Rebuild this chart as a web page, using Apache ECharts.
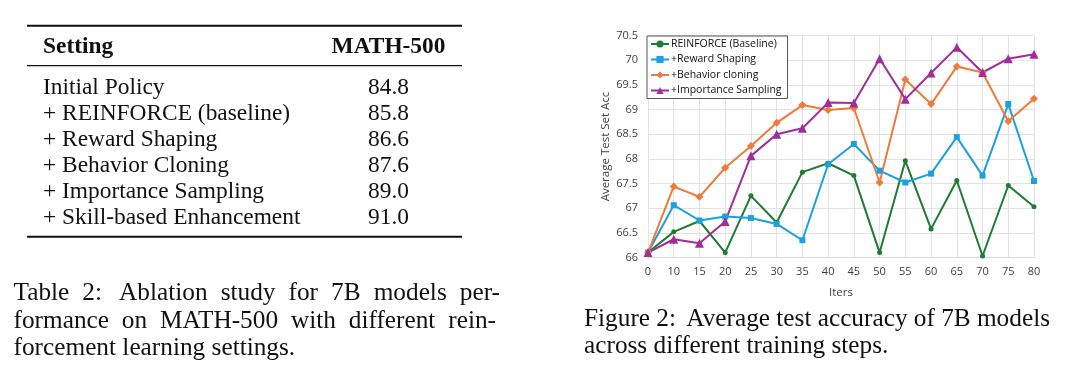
<!DOCTYPE html>
<html>
<head>
<meta charset="utf-8">
<script src="https://cdn.jsdelivr.net/npm/echarts@6/dist/echarts.min.js"></script>
<style>
html,body{margin:0;padding:0;background:#fff;}
#main{width:1080px;height:390px;}
</style>
</head>
<body>
<div id="main"></div>
<script>
// ---- chart data ----
var iters = ['0','10','15','20','25','30','35','40','45','50','55','60','65','70','75','80'];
var reinforce  = [66.1, 66.52, 66.74, 66.1, 67.25, 66.71, 67.73, 67.91, 67.66, 66.1, 67.96, 66.58, 67.56, 66.03, 67.46, 67.03];
var reward     = [66.1, 67.06, 66.75, 66.83, 66.8, 66.68, 66.35, 67.89, 68.3, 67.76, 67.52, 67.7, 68.44, 67.66, 69.11, 67.55];
var behavior   = [66.1, 67.44, 67.23, 67.82, 68.26, 68.73, 69.09, 68.99, 69.03, 67.52, 69.61, 69.11, 69.87, 69.75, 68.76, 69.22];
var importance = [66.1, 66.37, 66.29, 66.73, 68.06, 68.5, 68.62, 69.14, 69.13, 70.03, 69.21, 69.74, 70.26, 69.75, 70.03, 70.12];
var seriesNames = ['REINFORCE (Baseline)', '+Reward Shaping', '+Behavior cloning', '+Importance Sampling'];

// ---- table data ----
var tableHeader = ['Setting', 'MATH-500'];
var tableSettings = ['Initial Policy', '+ REINFORCE (baseline)', '+ Reward Shaping', '+ Behavior Cloning', '+ Importance Sampling', '+ Skill-based Enhancement'];
var tableScores = ['84.8', '85.8', '86.6', '87.6', '89.0', '91.0'];

// ---- captions ----
var tableCaption = ['Table 2:  Ablation study for 7B models per-', 'formance on MATH-500 with different rein-', 'forcement learning settings.'];
var figCaption = ['Figure 2:  Average test accuracy of 7B models', 'across different training steps.'];

var SERIF = '"Liberation Serif", "Times New Roman", serif';
var measureCtx = document.createElement('canvas').getContext('2d');

function textEl(txt, x, y, size, weight, align) {
  var font = (weight || 'normal') + ' ' + size + 'px ' + SERIF;
  return {
    type: 'text', silent: true,
    style: { text: txt, x: x, y: y, font: font, fill: '#111',
      textAlign: align || 'left', align: align || 'left',
      textVerticalAlign: 'middle', verticalAlign: 'middle' }
  };
}
function justifiedLine(txt, x, y, size, width) {
  var font = 'normal ' + size + 'px ' + SERIF;
  measureCtx.font = font;
  var words = txt.split(/\s+/);
  var total = 0;
  words.forEach(function (w) { total += measureCtx.measureText(w).width; });
  var extra = 4; // wider space after the label colon
  var gap = (width - total - extra) / (words.length - 1);
  var els = [], cx = x;
  words.forEach(function (w) {
    els.push(textEl(w, cx, y, size));
    cx += measureCtx.measureText(w).width + gap + (/:$/.test(w) ? extra : 0);
  });
  return els;
}

var graphics = [];
// table rules
var tL = 27, tR = 462;
graphics.push({type:'line', silent:true, shape:{x1:tL,y1:25.7,x2:tR,y2:25.7}, style:{stroke:'#111',lineWidth:2}});
graphics.push({type:'line', silent:true, shape:{x1:tL,y1:65.7,x2:tR,y2:65.7}, style:{stroke:'#111',lineWidth:1.3}});
graphics.push({type:'line', silent:true, shape:{x1:tL,y1:236.7,x2:tR,y2:236.7}, style:{stroke:'#111',lineWidth:2}});
// header
var TS = 23.4;
graphics.push(textEl(tableHeader[0], 43, 46.5, TS, 'bold', 'left'));
graphics.push(textEl(tableHeader[1], 388.5, 46.5, TS, 'bold', 'center'));
tableSettings.forEach(function (s, i) {
  var y = 87.5 + i * 26;
  graphics.push(textEl(s, 43, y, TS, 'normal', 'left'));
  graphics.push(textEl(tableScores[i], 388.5, y, TS, 'normal', 'center'));
});
// captions
var CS = 25.3;
graphics = graphics.concat(justifiedLine(tableCaption[0], 13.5, 293.5, CS, 486.5));
graphics = graphics.concat(justifiedLine(tableCaption[1], 13.5, 321, CS, 486.5));
graphics.push(textEl(tableCaption[2], 13.5, 348.5, CS));
graphics = graphics.concat(justifiedLine(figCaption[0], 584, 319.5, CS, 466));
graphics.push(textEl(figCaption[1], 584, 346.5, CS));

var colors = ['#1e7b34', '#1ba1dc', '#f07a3a', '#a02d98'];
var symbols = ['circle', 'rect', 'diamond', 'triangle'];
var sizes = [5, 6, 8, 9];
var datas = [reinforce, reward, behavior, importance];
var AX = '"Open Sans", "Noto Sans", sans-serif';

var option = {
  animation: false,
  backgroundColor: '#fff',
  color: colors,
  graphic: { elements: graphics },
  grid: { left: 648, top: 35.5, width: 386, height: 222, containLabel: false },
  legend: {
    orient: 'vertical', left: 647, top: 36,
    data: seriesNames,
    backgroundColor: '#fff', borderColor: '#555', borderWidth: 1,
    padding: [1, 6, 1, 3], itemGap: 1.5, itemWidth: 18, itemHeight: 9,
    textStyle: { fontFamily: AX, fontSize: 10.5, color: '#111', lineHeight: 14, padding: [0,0,0,-3] }
  },
  xAxis: {
    type: 'category', data: iters, boundaryGap: false,
    name: 'Iters', nameLocation: 'middle', nameGap: 29,
    nameTextStyle: { fontFamily: AX, fontSize: 11.5, color: '#404040' },
    axisLine: { lineStyle: { color: '#d9d9d9' } },
    axisTick: { show: false },
    axisLabel: { interval: 0, fontFamily: AX, fontSize: 11, color: '#404040', margin: 9 },
    splitLine: { show: true, lineStyle: { color: '#e3e3e3' } }
  },
  yAxis: {
    type: 'value', min: 66, max: 70.5, interval: 0.5,
    name: 'Average Test Set Acc', nameLocation: 'middle', nameGap: 36, nameRotate: 90,
    nameTextStyle: { fontFamily: AX, fontSize: 11.5, color: '#404040' },
    axisLine: { show: false }, axisTick: { show: false },
    axisLabel: { fontFamily: AX, fontSize: 11, color: '#404040', margin: 10 },
    splitLine: { lineStyle: { color: '#e3e3e3' } }
  },
  series: seriesNames.map(function (n, i) {
    return {
      name: n, type: 'line', data: datas[i],
      symbol: symbols[i], symbolSize: sizes[i], showSymbol: true,
      lineStyle: { width: 2, color: colors[i] },
      itemStyle: { color: colors[i] }
    };
  })
};
var chart = echarts.init(document.getElementById('main'), null, { renderer: 'canvas' });
chart.setOption(option);
</script>
</body>
</html>
